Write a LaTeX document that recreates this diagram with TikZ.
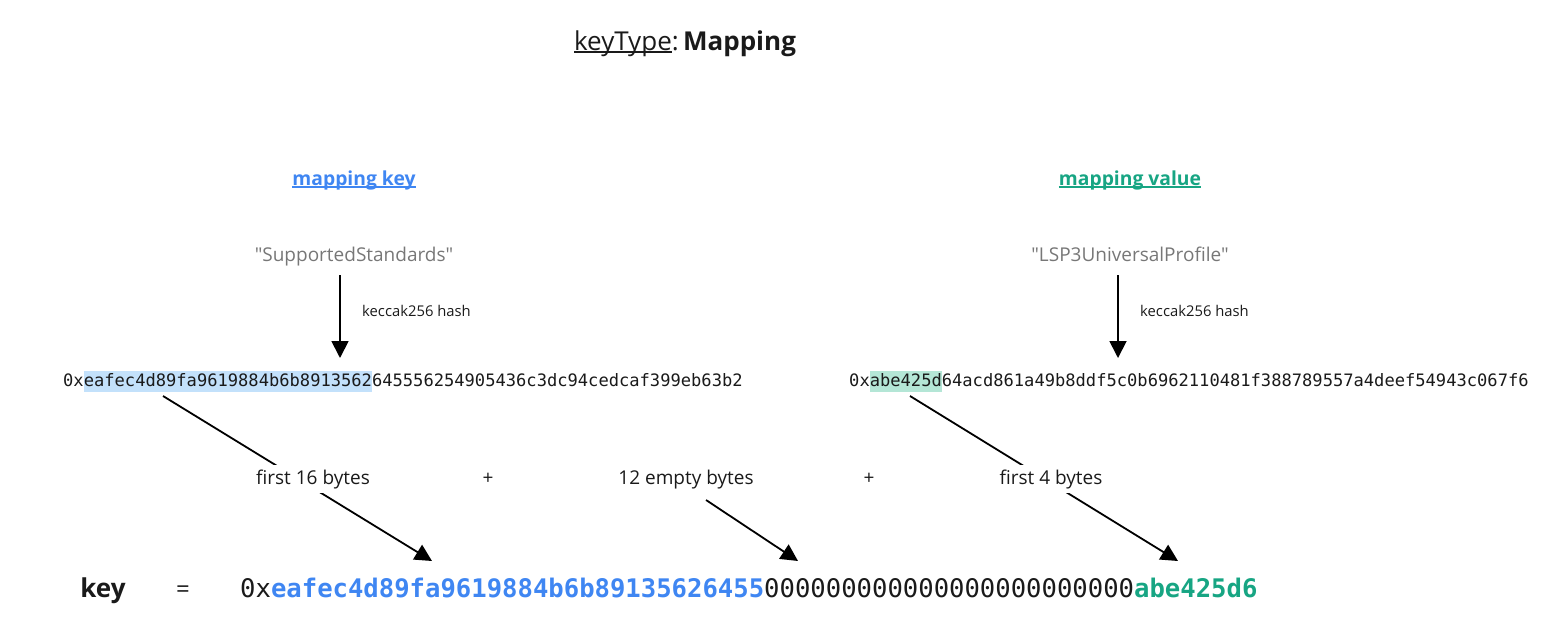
\documentclass[tikz,border=0pt]{standalone}
\usepackage{fontspec}
\setmainfont{Open Sans}[Ligatures=TeXOff]
\newfontfamily\hexfont{DejaVu Sans Mono}
\usetikzlibrary{arrows.meta}

\definecolor{keyblue}{HTML}{3F86F2}
\definecolor{valgreen}{HTML}{17A583}
\definecolor{hlblue}{HTML}{C3E1FB}
\definecolor{hlgreen}{HTML}{B4E6D6}
\definecolor{strgray}{HTML}{777777}
\definecolor{inkblack}{HTML}{1A1A1A}

% underline that cuts through the descenders
\newcommand{\ulinetext}[1]{\setbox0\hbox{#1}\rlap{\rule[-2.5pt]{\wd0}{1.4pt}}\box0}
% highlighted part of a hash
\newcommand{\hexmark}[2]{{\setlength{\fboxsep}{0pt}\colorbox{#1}{\strut #2}}}

\begin{document}
\begin{tikzpicture}[
        x=1pt, y=-1pt,
        title/.style={inner sep=0pt, anchor=base, font=\fontsize{26}{31}\selectfont, text=inkblack},
        heading/.style={inner sep=0pt, anchor=base, font=\fontsize{19.3}{23}\selectfont\bfseries},
        strlabel/.style={inner sep=0pt, anchor=base, font=\fontsize{19}{23}\selectfont, text=strgray},
        hashlabel/.style={inner sep=0pt, anchor=base west, font=\fontsize{14.8}{18}\selectfont, text=inkblack},
        hexline/.style={inner sep=0pt, anchor=base west, font=\hexfont\fontsize{17.1}{21}\selectfont, text=inkblack},
        bytelabel/.style={fill=white, inner sep=4pt, anchor=base, font=\fontsize{19}{23}\selectfont, text=inkblack},
        keyhex/.style={inner sep=0pt, anchor=base west, font=\hexfont\fontsize{25.6}{30}\selectfont, text=inkblack},
        arrow/.style={-{Triangle[length=17pt,width=17pt]}, line width=1.8pt}
    ]
    \useasboundingbox (0,0) rectangle (1560,640);

    % Title
    \node[title] (title) at (685,50) {\ulinetext{keyType}:\,\textbf{Mapping}};

    % Headings
    \node[heading, text=keyblue] (mkey) at (354,185) {\ulinetext{mapping key}};
    \node[heading, text=valgreen] (mval) at (1130,185) {\ulinetext{mapping value}};

    % Input strings
    \node[strlabel] (skey) at (354,261) {"SupportedStandards"};
    \node[strlabel] (sval) at (1130,261) {"LSP3UniversalProfile"};

    % Hashes
    \node[hexline] (hkey) at (63,386) {0x\hexmark{hlblue}{eafec4d89fa9619884b6b8913562}645556254905436c3dc94cedcaf399eb63b2};
    \node[hexline] (hval) at (849,386) {0x\hexmark{hlgreen}{abe425d}64acd861a49b8ddf5c0b6962110481f388789557a4deef54943c067f6};

    \coordinate (kdown-a) at (340,275);
    \coordinate (kdown-b) at (340,358);
    \coordinate (vdown-a) at (1118,275);
    \coordinate (vdown-b) at (1118,358);
    \draw[arrow] (kdown-a) -- (kdown-b);
    \draw[arrow] (vdown-a) -- (vdown-b);
    \node[hashlabel] (khash) at (362,316) {keccak256 hash};
    \node[hashlabel] (vhash) at (1140,316) {keccak256 hash};

    % Byte slices
    \coordinate (k16-a) at (163,396);
    \coordinate (k16-b) at (432,561);
    \coordinate (e12-a) at (706,500);
    \coordinate (e12-b) at (798,561);
    \coordinate (v4-a) at (910,396);
    \coordinate (v4-b) at (1178,561);
    \draw[arrow] (k16-a) -- (k16-b);
    \draw[arrow] (e12-a) -- (e12-b);
    \draw[arrow] (v4-a) -- (v4-b);
    \node[bytelabel] (k16) at (313,484) {first 16 bytes};
    \node[bytelabel] (e12) at (686,484) {12 empty bytes};
    \node[bytelabel] (v4) at (1051,484) {first 4 bytes};
    \node[bytelabel] (plus1) at (488,484) {+};
    \node[bytelabel] (plus2) at (869,484) {+};

    % Resulting key
    \node[title, font=\fontsize{26}{31}\selectfont\bfseries] (key) at (103,597) {key};
    \node[title, font=\fontsize{24}{29}\selectfont] (eq) at (183,597) {=};
    \node[keyhex] (keyval) at (240,597) {0x{\bfseries\color{keyblue}eafec4d89fa9619884b6b89135626455}000000000000000000000000{\bfseries\color{valgreen}abe425d6}};

\end{tikzpicture}
\end{document}
